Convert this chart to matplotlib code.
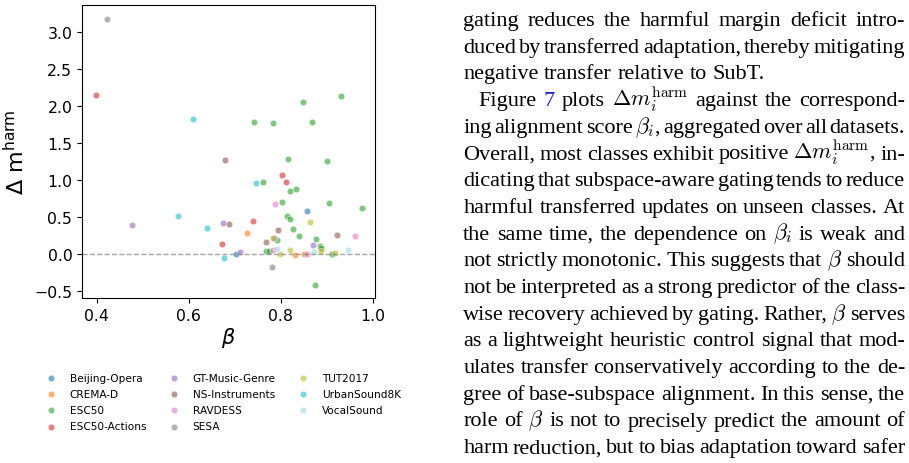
import matplotlib.pyplot as plt
import numpy as np

plt.rcParams["font.family"] = "DejaVu Sans"

# datasets and colours (tab10 + one extra light cyan)
datasets = ["Beijing-Opera", "CREMA-D", "ESC50", "ESC50-Actions", "GT-Music-Genre",
            "NS-Instruments", "RAVDESS", "SESA", "TUT2017", "UrbanSound8K", "VocalSound"]
colors = ["#1f77b4", "#ff7f0e", "#2ca02c", "#d62728", "#9467bd", "#8c564b",
          "#e377c2", "#7f7f7f", "#bcbd22", "#17becf", "#9edae5"]

# alignment score beta and harm reduction per class
beta_beijing = [0.857, 0.702]
harm_beijing = [0.572, -0.005]
beta_crema = [0.727, 0.830, 0.851]
harm_crema = [0.284, -0.018, -0.010]
beta_esc50 = [0.743, 0.784, 0.848, 0.868, 0.931, 0.816, 0.901, 0.761, 0.821, 0.834,
              0.802, 0.905, 0.976, 0.813, 0.820, 0.826, 0.839, 0.792, 0.877, 0.885,
              0.888, 0.767, 0.775, 0.911, 0.875]
harm_esc50 = [1.779, 1.761, 2.045, 1.784, 2.135, 1.275, 1.257, 0.964, 0.847, 0.869,
              0.703, 0.680, 0.622, 0.509, 0.464, 0.333, 0.243, 0.180, 0.203, 0.100,
              0.073, 0.034, 0.034, -0.005, -0.423]
beta_esc50_act = [0.398, 0.803, 0.812, 0.740, 0.672]
harm_esc50_act = [2.140, 1.068, 0.964, 0.446, 0.135]
beta_gtmusic = [0.477, 0.675, 0.786, 0.871, 0.712]
harm_gtmusic = [0.392, 0.419, 0.207, 0.115, 0.017]
beta_nsynth = [0.678, 0.688, 0.794, 0.922, 0.769]
harm_nsynth = [1.260, 0.396, 0.318, 0.252, 0.153]
beta_ravdess = [0.788, 0.962, 0.783, 0.857]
harm_ravdess = [0.671, 0.234, 0.048, 0.000]
beta_sesa = [0.422, 0.781]
harm_sesa = [3.167, -0.182]
beta_tut = [0.864, 0.783, 0.798, 0.820, 0.888, 0.918]
harm_tut = [0.423, 0.216, 0.000, 0.054, 0.041, 0.004]
beta_urban = [0.610, 0.746, 0.576, 0.639, 0.677]
harm_urban = [1.815, 0.960, 0.505, 0.347, -0.054]
beta_vocal = [0.791, 0.872, 0.946]
harm_vocal = [0.070, 0.027, 0.050]

betas = [beta_beijing, beta_crema, beta_esc50, beta_esc50_act, beta_gtmusic, beta_nsynth,
         beta_ravdess, beta_sesa, beta_tut, beta_urban, beta_vocal]
harms = [harm_beijing, harm_crema, harm_esc50, harm_esc50_act, harm_gtmusic, harm_nsynth,
         harm_ravdess, harm_sesa, harm_tut, harm_urban, harm_vocal]

W, H = 909, 464
fig = plt.figure(figsize=(W / 100, H / 100), dpi=100)
ax = fig.add_axes([82 / W, 1 - 299 / H, (375 - 82) / W, (299 - 6) / H])

handles = []
for name, c, b, h in zip(datasets, colors, betas, harms):
    sc = ax.scatter(b, h, s=22, color=c, alpha=0.6, edgecolor="white", linewidth=0.5, label=name)
    handles.append(sc)

ax.axhline(0, color="gray", linestyle="--", linewidth=1, alpha=0.7)
ax.set_xlim(0.368, 1.005)
ax.set_ylim(-0.599, 3.361)
ax.set_xticks([0.4, 0.6, 0.8, 1.0])
ax.set_yticks([-0.5, 0.0, 0.5, 1.0, 1.5, 2.0, 2.5, 3.0])
ax.tick_params(labelsize=11.3)
ax.set_xlabel(r"$\beta$", fontsize=15, labelpad=2)
ax.set_ylabel(r"$\Delta$ m$^{\mathrm{harm}}$", fontsize=16)

fig.legend(handles=handles, loc="upper left", bbox_to_anchor=(40 / W, 1 - 374 / H),
           ncol=3, frameon=False, fontsize=7.6, borderpad=0, borderaxespad=0,
           labelspacing=0.58, columnspacing=1.6, handletextpad=0.8)

# paragraph of the paper on the right, justified line by line
para = [
    ("gating reduces the harmful margin deficit intro-", True, 0),
    ("duced by transferred adaptation, thereby mitigating", True, 0),
    ("negative transfer relative to SubT.", False, 0),
    (r"Figure 7 plots $\Delta{m}_i^{\mathrm{harm}}$ against the correspond-", True, 15),
    (r"ing alignment score $\beta_i$, aggregated over all datasets.", True, 0),
    (r"Overall, most classes exhibit positive $\Delta{m}_i^{\mathrm{harm}}$, in-", True, 0),
    ("dicating that subspace-aware gating tends to reduce", True, 0),
    ("harmful transferred updates on unseen classes. At", True, 0),
    (r"the same time, the dependence on $\beta_i$ is weak and", True, 0),
    (r"not strictly monotonic. This suggests that $\beta$ should", True, 0),
    ("not be interpreted as a strong predictor of the class-", True, 0),
    (r"wise recovery achieved by gating. Rather, $\beta$ serves", True, 0),
    ("as a lightweight heuristic control signal that mod-", True, 0),
    ("ulates transfer conservatively according to the de-", True, 0),
    ("gree of base-subspace alignment. In this sense, the", True, 0),
    (r"role of $\beta$ is not to precisely predict the amount of", True, 0),
    ("harm reduction, but to bias adaptation toward safer", True, 0),
]
fs = 16.0
left, right = 463.3, 905.0
base0, skip = 26.0, 26.7
renderer = fig.canvas.get_renderer()

for k, (line, justify, indent) in enumerate(para):
    words = line.split(" ")
    y = 1 - (base0 + k * skip) / H
    texts = []
    for w in words:
        col = (0.12, 0.12, 0.8) if (k == 3 and w == "7") else "black"
        t = fig.text(0, y, w, fontsize=fs, family="Liberation Serif", math_fontfamily="cm",
                     va="baseline", ha="left", color=col)
        texts.append(t)
    widths = [t.get_window_extent(renderer).width for t in texts]
    x0 = left + indent
    if justify and len(words) > 1:
        gap = (right - x0 - sum(widths)) / (len(words) - 1)
    else:
        gap = fs * 100 / 72 * 0.25
    x = x0
    for t, wd in zip(texts, widths):
        t.set_x(x / W)
        x += wd + gap

fig.savefig("out.png", dpi=100)
